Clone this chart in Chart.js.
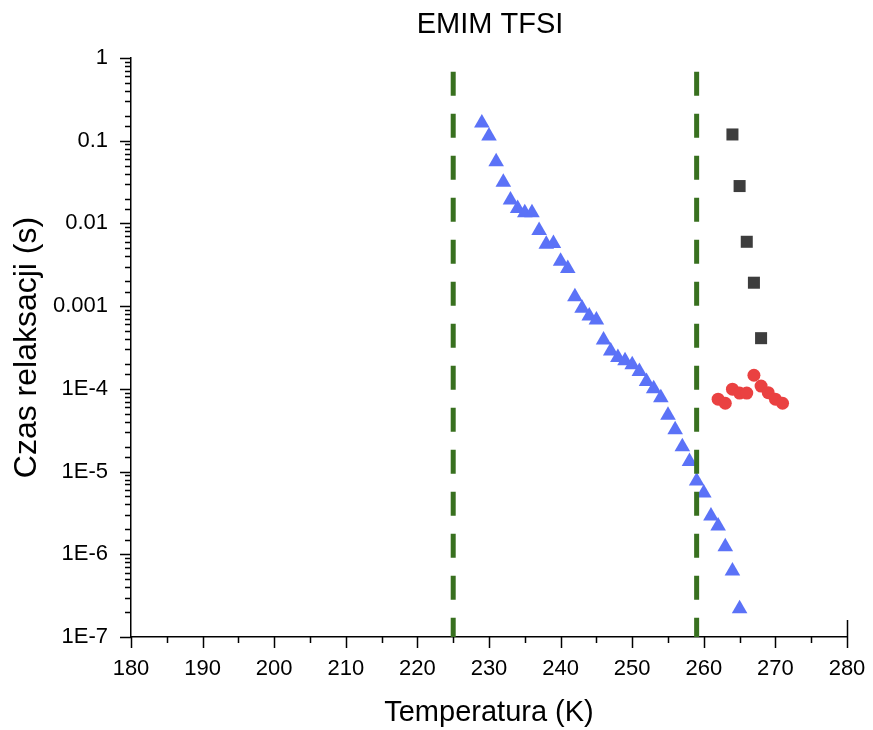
<!DOCTYPE html>
<html lang="pl">
<head>
    <meta charset="UTF-8">
    <title>EMIM TFSI</title>
    <script src="https://cdn.jsdelivr.net/npm/chart.js"></script>
    <style>
        html, body { margin: 0; padding: 0; background: #fff; }
        #wrap { width: 873px; height: 730px; }
    </style>
</head>
<body>
    <div id="wrap"><canvas id="chart" width="873" height="730"></canvas></div>

    <script>
        // triangles (blue)
        const triT = [229, 230, 231, 232, 233, 234, 235, 236, 237, 238, 239, 240, 241, 242, 243, 244, 245,
                      246, 247, 248, 249, 250, 251, 252, 253, 254, 255, 256, 257, 258, 259, 260, 261, 262,
                      263, 264, 265];
        const triTau = [0.164, 0.114, 0.0557, 0.0314, 0.0192, 0.0152, 0.0135, 0.0135, 0.0082, 0.0056, 0.0057,
                        0.0035, 0.00286, 0.0013, 0.00094, 0.00076, 0.00068, 0.00039, 0.000286, 0.00024,
                        0.000219, 0.000195, 0.000162, 0.000123, 0.0001, 7.8e-5, 4.8e-5, 3.2e-5, 2.0e-5,
                        1.32e-5, 7.7e-6, 5.5e-6, 2.9e-6, 2.2e-6, 1.23e-6, 6.3e-7, 2.2e-7];
        // squares (dark grey)
        const sqT = [264, 265, 266, 267, 268];
        const sqTau = [0.119, 0.0283, 0.0060, 0.00192, 0.00041];
        // circles (red)
        const cirT = [262, 263, 264, 265, 266, 267, 268, 269, 270, 271];
        const cirTau = [7.5e-5, 6.7e-5, 9.9e-5, 8.9e-5, 8.9e-5, 1.46e-4, 1.08e-4, 9.0e-5, 7.5e-5, 6.7e-5];
        // dashed region borders
        const borderT = [225, 259];
        const borderTop = 0.68;
        const borderBottom = 1e-7;

        const xTicks = [180, 190, 200, 210, 220, 230, 240, 250, 260, 270, 280];
        const yTickLabels = { '1': '1', '0.1': '0.1', '0.01': '0.01', '0.001': '0.001',
                              '0.0001': '1E-4', '0.00001': '1E-5', '0.000001': '1E-6', '1e-7': '1E-7' };

        const pts = (xs, ys) => xs.map((x, i) => ({ x: x, y: ys[i] }));
        const font = 'Arial, "Liberation Sans", sans-serif';

        const datasets = [];
        borderT.forEach(t => {
            datasets.push({
                type: 'line',
                data: [{ x: t, y: borderTop }, { x: t, y: borderBottom }],
                borderColor: '#38701f',
                borderWidth: 5,
                borderDash: [24, 18],
                pointRadius: 0,
                fill: false
            });
        });
        datasets.push({
            data: pts(triT, triTau), pointStyle: 'triangle', pointRadius: 9,
            backgroundColor: '#5b72f7', borderColor: '#5b72f7', borderWidth: 0
        });
        datasets.push({
            data: pts(sqT, sqTau), pointStyle: 'rect', pointRadius: 8.5,
            backgroundColor: '#3d3d3d', borderColor: '#3d3d3d', borderWidth: 0
        });
        datasets.push({
            data: pts(cirT, cirTau), pointStyle: 'circle', pointRadius: 6.5,
            backgroundColor: '#ea4141', borderColor: '#ea4141', borderWidth: 0
        });

        const log10 = v => Math.log(v) / Math.LN10;
        const isPow = v => Math.abs(log10(v) - Math.round(log10(v))) < 1e-6;

        // outward ticks, major and minor, plus title
        const tickPlugin = {
            id: 'tickMarks',
            afterDraw(chart) {
                const ctx = chart.ctx;
                const xs = chart.scales.x, ys = chart.scales.y;
                const area = chart.chartArea;
                ctx.save();
                ctx.strokeStyle = '#000';
                ctx.lineWidth = 1.5;
                ctx.beginPath();
                ys.ticks.forEach(t => {
                    const py = Math.round(ys.getPixelForValue(t.value)) + 0.5;
                    const len = isPow(t.value) ? 11 : 6;
                    ctx.moveTo(area.left, py);
                    ctx.lineTo(area.left - len, py);
                });
                xs.ticks.forEach((t, i) => {
                    const px = Math.round(xs.getPixelForValue(t.value)) + 0.5;
                    ctx.moveTo(px, area.bottom);
                    ctx.lineTo(px, area.bottom + 11);
                    if (i < xs.ticks.length - 1) {
                        const mid = Math.round(xs.getPixelForValue((t.value + xs.ticks[i + 1].value) / 2)) + 0.5;
                        ctx.moveTo(mid, area.bottom);
                        ctx.lineTo(mid, area.bottom + 6);
                    }
                });
                // short stub at the right end of the x axis
                const rx = Math.round(area.right) + 0.5;
                ctx.moveTo(rx, area.bottom);
                ctx.lineTo(rx, area.bottom - 17);
                ctx.stroke();

                ctx.fillStyle = '#000';
                ctx.font = '29px ' + font;
                ctx.textAlign = 'center';
                ctx.textBaseline = 'alphabetic';
                ctx.fillText('EMIM TFSI', 490, 33);
                ctx.restore();
            }
        };

        new Chart(document.getElementById('chart'), {
            type: 'scatter',
            data: { datasets: datasets },
            options: {
                responsive: false,
                animation: false,
                layout: { padding: { top: 58, right: 26, left: 0, bottom: 0 } },
                plugins: { legend: { display: false }, tooltip: { enabled: false }, title: { display: false } },
                scales: {
                    x: {
                        type: 'linear', min: 180, max: 280,
                        afterFit: s => { s.height = 93; s.paddingLeft = 0; s.paddingRight = 0; },
                        afterBuildTicks: s => { s.ticks = xTicks.map(v => ({ value: v })); },
                        grid: { display: false, drawTicks: false },
                        border: { display: true, color: '#000', width: 1.5 },
                        ticks: { color: '#000', font: { family: font, size: 22 }, padding: 19, maxRotation: 0, autoSkip: false },
                        title: { display: true, text: 'Temperatura (K)', color: '#000',
                                 font: { family: font, size: 29 }, padding: { top: 0, bottom: 0 } }
                    },
                    y: {
                        type: 'logarithmic', min: 1e-7, max: 1,
                        afterFit: s => { s.width = 131; s.paddingTop = 0; s.paddingBottom = 0; },
                        grid: { display: false, drawTicks: false },
                        border: { display: true, color: '#000', width: 1.5 },
                        ticks: {
                            color: '#000', font: { family: font, size: 22 }, padding: 23, autoSkip: false,
                            callback: v => isPow(v) ? (yTickLabels[String(v)] || String(v)) : ''
                        },
                        title: { display: true, text: 'Czas relaksacji (s)', color: '#000',
                                 font: { family: font, size: 32 }, padding: { top: 8, bottom: 0 } }
                    }
                }
            },
            plugins: [tickPlugin]
        });
    </script>
</body>
</html>
